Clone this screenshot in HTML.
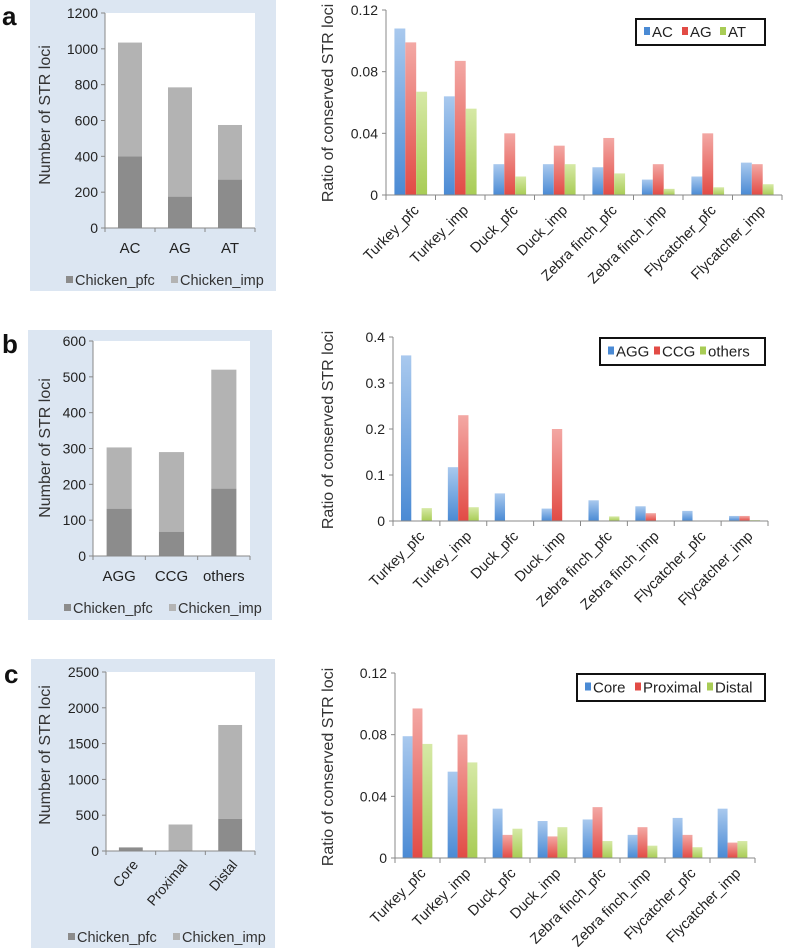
<!DOCTYPE html>
<html><head><meta charset="utf-8"><style>
body{margin:0;background:#fff;}
svg{display:block;font-family:"Liberation Sans",Arial,sans-serif;}
</style></head><body>
<svg id="fig" width="787" height="952" viewBox="0 0 787 952" xmlns="http://www.w3.org/2000/svg">
<defs>
<linearGradient id="gB" x1="0" y1="0" x2="0" y2="1"><stop offset="0" stop-color="#a9c9ee"/><stop offset="1" stop-color="#4a8ad4"/></linearGradient>
<linearGradient id="gR" x1="0" y1="0" x2="0" y2="1"><stop offset="0" stop-color="#f3a8a4"/><stop offset="1" stop-color="#e24b45"/></linearGradient>
<linearGradient id="gG" x1="0" y1="0" x2="0" y2="1"><stop offset="0" stop-color="#d6e9a6"/><stop offset="1" stop-color="#a8cc55"/></linearGradient>
</defs>
</svg>
<script>
// ---- data ----
const birdCats = ["Turkey_pfc","Turkey_imp","Duck_pfc","Duck_imp","Zebra finch_pfc","Zebra finch_imp","Flycatcher_pfc","Flycatcher_imp"];
const aLeftCats = ["AC","AG","AT"];
const aPfc = [400,175,270];
const aTotal = [1035,785,575];
const aLeftTicks = [0,200,400,600,800,1000,1200];
const aSeries = ["AC","AG","AT"];
const aAC = [0.108,0.064,0.020,0.020,0.018,0.010,0.012,0.021];
const aAG = [0.099,0.087,0.040,0.032,0.037,0.020,0.040,0.020];
const aAT = [0.067,0.056,0.012,0.020,0.014,0.004,0.005,0.007];
const aRightTicks = [0,0.04,0.08,0.12];
const aRightTickLabels = ["0","0.04","0.08","0.12"];

const bLeftCats = ["AGG","CCG","others"];
const bPfc = [132,67,188];
const bTotal = [303,290,520];
const bLeftTicks = [0,100,200,300,400,500,600];
const bSeries = ["AGG","CCG","others"];
const bAGG = [0.36,0.117,0.06,0.027,0.045,0.032,0.022,0.011];
const bCCG = [0,0.23,0,0.2,0,0.017,0,0.011];
const bOthers = [0.028,0.03,0,0.001,0.01,0.001,0,0.002];
const bRightTicks = [0,0.1,0.2,0.3,0.4];
const bRightTickLabels = ["0","0.1","0.2","0.3","0.4"];

const cLeftCats = ["Core","Proximal","Distal"];
const cPfc = [50,0,450];
const cTotal = [50,370,1760];
const cLeftTicks = [0,500,1000,1500,2000,2500];
const cSeries = ["Core","Proximal","Distal"];
const cCore = [0.079,0.056,0.032,0.024,0.025,0.015,0.026,0.032];
const cProx = [0.097,0.080,0.015,0.014,0.033,0.020,0.015,0.010];
const cDist = [0.074,0.062,0.019,0.020,0.011,0.008,0.007,0.011];
const cRightTicks = [0,0.04,0.08,0.12];
const cRightTickLabels = ["0","0.04","0.08","0.12"];

// ---- drawing ----
const NS="http://www.w3.org/2000/svg";
const svg=document.getElementById('fig');
function mk(tag,attrs,parent,text){const e=document.createElementNS(NS,tag);for(const k in attrs)e.setAttribute(k,attrs[k]);if(text!==undefined)e.textContent=text;(parent||svg).appendChild(e);return e;}
function scale(d0,d1,r0,r1){return v=>r0+(v-d0)/(d1-d0)*(r1-r0);}

function leftPanel(p){
  const g=mk('g',{});
  
  
  const bg=mk('rect',{x:p.bx,y:p.by,width:p.bw,height:p.bh,fill:'#dce6f2'},g);
  
  
  mk('rect',{x:p.x0,y:p.yTop,width:p.x1-p.x0,height:p.y0-p.yTop,fill:'#fff'},g);
  const ys=scale(0,p.ticks[p.ticks.length-1],p.y0,p.yTop);
  p.ticks.forEach(t=>{
    mk('line',{x1:p.x0-4,x2:p.x0,y1:ys(t),y2:ys(t),stroke:'#888'},g);
    const tl=mk('text',{x:p.x0-7,y:ys(t)+5,'text-anchor':'end','font-size':14,fill:'#222'},g,String(t));
    
    
  });
  const cw=(p.x1-p.x0)/p.cats.length;
  const bw=cw*0.48;
  p.cats.forEach((c,i)=>{
    const cx=p.x0+cw*(i+0.5);
    const r1=mk('rect',{x:cx-bw/2,y:ys(p.total[i]),width:bw,height:ys(p.pfc[i])-ys(p.total[i]),fill:'#b3b3b3'},g);
    
    
    const r2=mk('rect',{x:cx-bw/2,y:ys(p.pfc[i]),width:bw,height:p.y0-ys(p.pfc[i]),fill:'#8c8c8c'},g);
    
    
    mk('line',{x1:p.x0+cw*(i+1),x2:p.x0+cw*(i+1),y1:p.y0,y2:p.y0+4,stroke:'#888'},g);
    let t;
    if(p.rot){t=mk('text',{x:cx+8,y:p.y0+14,'text-anchor':'end','font-size':14,fill:'#222',transform:`rotate(-50 ${cx+8} ${p.y0+14})`},g,c);}
    else{t=mk('text',{x:cx,y:p.labY,'text-anchor':'middle','font-size':15,fill:'#222'},g,c);}
    
    
  });
  mk('line',{x1:p.x0,x2:p.x0,y1:p.yTop,y2:p.y0,stroke:'#888'},g);
  mk('line',{x1:p.x0,x2:p.x1,y1:p.y0,y2:p.y0,stroke:'#888'},g);
  mk('line',{x1:p.x0,x2:p.x0,y1:p.y0,y2:p.y0+4,stroke:'#888'},g);
  const yt=mk('text',{x:p.tx,y:p.ty,'text-anchor':'middle','font-size':16,fill:'#333',transform:`rotate(-90 ${p.tx} ${p.ty})`},g,'Number of STR loci');
  
  
  const lg=mk('g',{},g);
  
  
  mk('rect',{x:p.lx,y:p.ly-9,width:7,height:7,fill:'#8c8c8c'},lg);
  mk('text',{x:p.lx+9,y:p.ly,'font-size':14.5,fill:'#333'},lg,'Chicken_pfc');
  mk('rect',{x:p.lx+105,y:p.ly-9,width:7,height:7,fill:'#b3b3b3'},lg);
  mk('text',{x:p.lx+114,y:p.ly,'font-size':14.5,fill:'#333'},lg,'Chicken_imp');
  const L=mk('text',{x:p.letX,y:p.letY,'font-size':26,'font-weight':'bold',fill:'#111'},g,p.id);
  
  
}

function rightPanel(p){
  const g=mk('g',{});
  
  
  const max=p.ticks[p.ticks.length-1];
  const ys=scale(0,max,p.y0,p.yTop);
  p.ticks.forEach((t,i)=>{
    mk('line',{x1:p.x0-4,x2:p.x0,y1:ys(t),y2:ys(t),stroke:'#888'},g);
    const tl=mk('text',{x:p.x0-8,y:ys(t)+5,'text-anchor':'end','font-size':14,fill:'#222'},g,p.tickLabels[i]);
    
    
  });
  const cw=(p.x1-p.x0)/birdCats.length;
  const bw=cw*0.22;
  const fills=['url(#gB)','url(#gR)','url(#gG)'];
  birdCats.forEach((c,i)=>{
    const cx=p.x0+cw*(i+0.5);
    p.series.forEach((s,k)=>{
      const v=s[i];
      const r=mk('rect',{x:cx-1.5*bw+k*bw,y:ys(v),width:bw,height:p.y0-ys(v),fill:fills[k]},g);
      
      
    });
    mk('line',{x1:p.x0+cw*(i+1),x2:p.x0+cw*(i+1),y1:p.y0,y2:p.y0+5,stroke:'#888'},g);
    const t=mk('text',{x:cx+9,y:p.y0+16,'text-anchor':'end','font-size':14.5,fill:'#222',transform:`rotate(-45 ${cx+9} ${p.y0+16})`},g,c);
    
    
  });
  mk('line',{x1:p.x0,x2:p.x0,y1:p.yTop,y2:p.y0,stroke:'#888'},g);
  mk('line',{x1:p.x0,x2:p.x1,y1:p.y0,y2:p.y0,stroke:'#888'},g);
  mk('line',{x1:p.x0,x2:p.x0,y1:p.y0,y2:p.y0+5,stroke:'#888'},g);
  const yt=mk('text',{x:p.tx,y:p.ty,'text-anchor':'middle','font-size':16,fill:'#333',transform:`rotate(-90 ${p.tx} ${p.ty})`},g,'Ratio of conserved STR loci');
  
  
  const lg=mk('g',{},g);
  
  
  mk('rect',{x:p.lgx,y:p.lgy,width:p.lgw,height:p.lgh,fill:'#fff',stroke:'#111','stroke-width':2},lg);
  const cols=['#4a8ad4','#e24b45','#a8cc55'];
  let x=p.lgx+8;const ty=p.lgy+p.lgh/2+5;
  p.names.forEach((n,k)=>{
    mk('rect',{x:x,y:ty-10,width:6,height:8,fill:cols[k]},lg);
    const t=mk('text',{x:x+8,y:ty,'font-size':15,fill:'#222'},lg,n);
    
    
    x+=8+p.nw[k];
  });
}

leftPanel({id:'a',bx:30,by:0,bw:246,bh:291,x0:105,x1:255,yTop:13,y0:228,ticks:aLeftTicks,cats:aLeftCats,pfc:aPfc,total:aTotal,labY:253,tx:50,ty:115,lx:66,ly:285,letX:2,letY:25});
rightPanel({id:'a',x0:386,x1:782,yTop:10,y0:195,ticks:aRightTicks,tickLabels:aRightTickLabels,series:[aAC,aAG,aAT],names:aSeries,tx:333,ty:103,lgx:636,lgy:19,lgw:129,lgh:26,nw:[30,30,30]});

leftPanel({id:'b',bx:28,by:330,bw:244,bh:290,x0:93,x1:250,yTop:341,y0:556,ticks:bLeftTicks,cats:bLeftCats,pfc:bPfc,total:bTotal,labY:581,tx:50,ty:448,lx:64,ly:613,letX:2,letY:353});
rightPanel({id:'b',x0:393,x1:768,yTop:337,y0:521,ticks:bRightTicks,tickLabels:bRightTickLabels,series:[bAGG,bCCG,bOthers],names:bSeries,tx:333,ty:430,lgx:600,lgy:338,lgw:165,lgh:27,nw:[38,38,50]});

leftPanel({id:'c',bx:31,by:659,bw:244,bh:289,x0:106,x1:255,yTop:672,y0:851,ticks:cLeftTicks,cats:cLeftCats,pfc:cPfc,total:cTotal,rot:true,tx:50,ty:755,lx:68,ly:942,letX:4,letY:683});
rightPanel({id:'c',x0:395,x1:755,yTop:673,y0:858,ticks:cRightTicks,tickLabels:cRightTickLabels,series:[cCore,cProx,cDist],names:cSeries,tx:333,ty:767,lgx:577,lgy:674,lgw:188,lgh:27,nw:[42,64,50]});
</script>
</body></html>
